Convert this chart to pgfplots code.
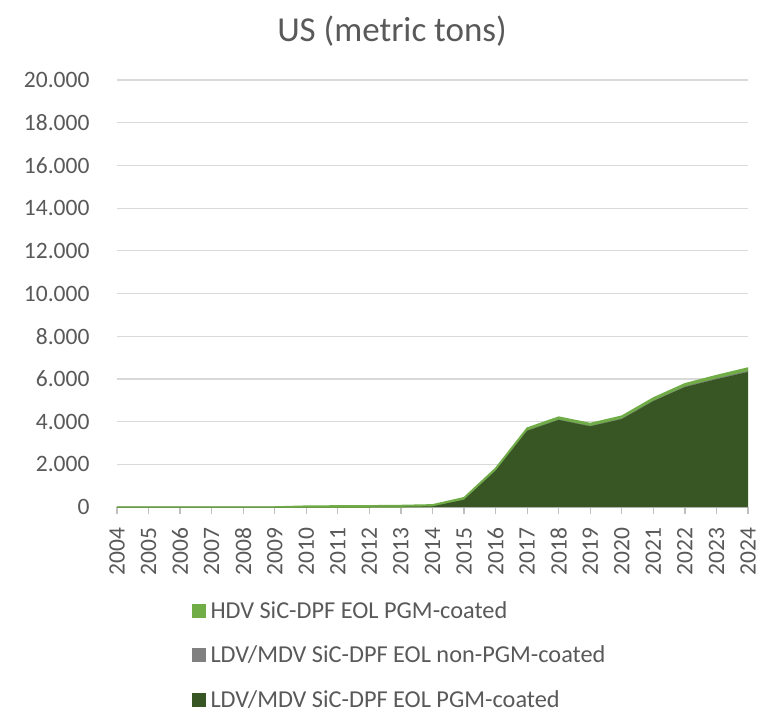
\documentclass[border=0pt]{standalone}
\usepackage{pgfplots}
\pgfplotsset{compat=1.18}
\usepackage{pgfplotstable}
\usepackage{fontspec}
\setmainfont{Carlito}
\definecolor{txt}{HTML}{595959}
\definecolor{gridc}{HTML}{D9D9D9}
\definecolor{axl}{HTML}{BFBFBF}
\definecolor{dkg}{HTML}{375623}
\definecolor{ltg}{HTML}{70AD47}
\definecolor{gry}{HTML}{808080}
\pgfplotstableread{
year dark grey hdv
2004 0 0 0
2005 0 0 0
2006 0 0 0
2007 0 0 0
2008 0 0 0
2009 0 0 0
2010 0 0 40
2011 0 0 50
2012 0 0 55
2013 10 0 60
2014 30 0 70
2015 340 5 90
2016 1700 10 100
2017 3570 15 110
2018 4080 20 110
2019 3780 20 110
2020 4120 25 110
2021 4960 25 120
2022 5620 30 120
2023 5990 35 130
2024 6330 40 140
}\datatable
\begin{document}
\begin{tikzpicture}
\begin{axis}[
  scale only axis,
  width=631pt, height=427pt,
  xmin=2004, xmax=2024,
  ymin=0, ymax=20000,
  stack plots=y,
  axis line style={draw=none},
  axis x line*=bottom,
  axis y line*=left,
  xtick={2004,2005,...,2024},
  ytick={0,2000,...,20000},
  scaled y ticks=false,
  xmajorgrids=false,
  ymajorgrids=true,
  grid style={draw=gridc, line width=1.2pt},
  x tick label style={rotate=90, anchor=east, font=\fontsize{23.5}{26}\selectfont, text=txt, xshift=-10pt,
     /pgf/number format/1000 sep={}},
  y tick label style={font=\fontsize{23.5}{26}\selectfont, text=txt, xshift=-24pt,
     /pgf/number format/1000 sep={.}},
  /pgf/number format/assume math mode=true,
  major x tick style={axl, line width=1.2pt},
  major y tick style={draw=none},
  xtick align=outside,
  major tick length=7pt,
  reverse legend,
  legend cell align=left,
  legend style={draw=none, fill=none, at={(0.113,-0.212)}, anchor=north west,
     font=\fontsize{24.3}{27}\selectfont, text=txt, row sep=22pt,
     nodes={inner xsep=5pt}},
  legend image code/.code={\path[#1, draw=none] (0pt,-7pt) rectangle (14pt,7pt);},
]
\addplot[fill=dkg, draw=none] table[x=year,y=dark] {\datatable} \closedcycle;
\addlegendentry{LDV/MDV SiC-DPF EOL PGM-coated}
\addplot[fill=gry, draw=none] table[x=year,y=grey] {\datatable} \closedcycle;
\addlegendentry{LDV/MDV SiC-DPF EOL non-PGM-coated}
\addplot[fill=ltg, draw=ltg, line width=1.5pt] table[x=year,y=hdv] {\datatable} \closedcycle;
\addlegendentry{HDV SiC-DPF EOL PGM-coated}
\draw[axl, line width=1.2pt] (rel axis cs:0,0) -- (rel axis cs:1,0);
\end{axis}
\node[text=txt, font=\fontsize{35}{40}\selectfont] at ([xshift=275pt,yshift=476pt]current axis.south west) {US (metric tons)};
\pgfresetboundingbox
\path ([xshift=-117pt,yshift=-206pt]current axis.south west) rectangle ++(767pt,713pt);
\end{tikzpicture}
\end{document}
